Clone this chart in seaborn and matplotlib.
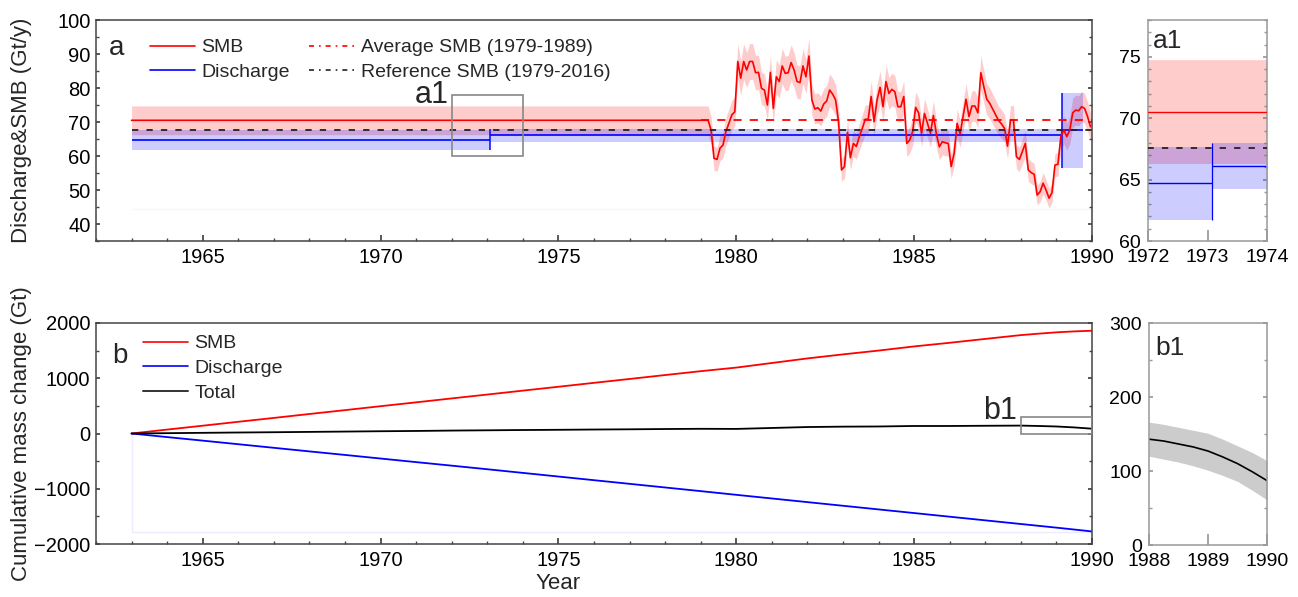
import numpy as np
import pandas as pd
import matplotlib
matplotlib.use("Agg")
import matplotlib.pyplot as plt
from matplotlib.lines import Line2D
from matplotlib.patches import Rectangle
from matplotlib.ticker import MultipleLocator, FixedLocator
import seaborn as sns

# ---------------- data: panel a (Gt/y) ----------------
smb_const = 70.5              # SMB used for 1963-1979
smb_rel_err = 0.06            # half-width of the SMB band, relative
smb_monthly = [               # Jan 1979 .. Dec 1989
    70.5, 70.5, 70.5, 67.6, 59.3, 59.0, 62.3, 63.2, 67.2, 69.6, 72.1, 73.0,
    87.8, 82.9, 87.8, 85.3, 87.8, 87.8, 84.5, 84.6, 79.9, 79.4, 75.0, 84.6,
    74.0, 83.3, 81.9, 86.5, 84.3, 84.5, 87.5, 85.3, 81.9, 81.6, 86.5, 83.3,
    89.4, 76.5, 73.8, 74.2, 73.2, 75.3, 76.2, 79.4, 78.2, 76.5, 70.1, 55.9,
    56.9, 66.9, 59.5, 63.7, 62.8, 65.7, 68.1, 70.8, 70.8, 77.5, 70.1, 76.5,
    80.2, 74.5, 81.9, 78.4, 79.6, 78.9, 74.5, 74.5, 77.5, 63.7, 64.7, 67.2,
    74.3, 72.7, 66.7, 72.5, 69.6, 66.7, 71.9, 66.5, 62.7, 64.2, 63.9, 63.7,
    56.9, 60.8, 69.6, 66.5, 71.6, 76.7, 71.6, 74.7, 74.7, 72.7, 84.5, 80.4,
    76.7, 75.5, 73.8, 72.1, 70.4, 69.4, 68.1, 62.9, 70.6, 70.6, 59.8, 59.0,
    61.3, 63.7, 55.9, 55.1, 54.6, 48.5, 49.5, 52.0, 50.0, 47.6, 49.2, 57.3,
    57.6, 65.7, 67.6, 65.7, 67.6, 72.7, 73.5, 73.3, 74.5, 74.0, 71.6, 68.6,
]
smb_avg_79_89 = 70.5
smb_ref_79_16 = 67.6
smb_band_floor = 44.5

dis_edges = [1963.0, 1973.08, 1989.17, 1989.75]
dis_vals = [64.7, 66.1, 67.6]
dis_lo = [61.7, 64.2, 56.6]
dis_hi = [67.65, 68.0, 78.4]

# ---------------- data: panel b (Gt) ----------------
cum_years = [1963, 1964, 1965, 1966, 1967, 1968, 1969, 1970, 1971, 1972,
             1973, 1974, 1975, 1976, 1977, 1978, 1979, 1980, 1981, 1982,
             1983, 1984, 1985, 1986, 1987, 1988, 1988.5, 1989, 1989.5, 1990]
cum_smb = [0, 71, 141, 212, 282, 353, 423, 494, 564, 635,
           705, 776, 846, 917, 987, 1058, 1128, 1193, 1276, 1359,
           1432, 1501, 1576, 1642, 1712, 1781, 1807, 1831, 1848, 1860]
cum_dis = [0, -65, -129, -194, -259, -324, -388, -453, -518, -582,
           -647, -713, -779, -845, -911, -977, -1043, -1110, -1176, -1242,
           -1308, -1374, -1440, -1506, -1572, -1638, -1671, -1704, -1738, -1773]
cum_total = [0, 6, 12, 18, 23, 29, 35, 41, 46, 53,
             58, 63, 67, 72, 76, 81, 85, 83, 100, 117,
             124, 127, 136, 136, 140, 143, 136, 127, 110, 87]
cum_floor = -1790

b1_years = [1988, 1988.25, 1988.5, 1988.75, 1989, 1989.25, 1989.5, 1989.75, 1990]
b1_total = [143, 140.5, 136.5, 132.5, 127, 119, 110, 99, 87]
b1_lo = [120, 116, 112, 107, 101, 94, 86, 74, 61]
b1_hi = [166, 163, 159, 155, 151, 143, 134, 125, 114]

# ---------------- style ----------------
sns.set_theme(style="ticks")
plt.rcParams["font.family"] = ["Liberation Sans", "DejaVu Sans"]
plt.rcParams["axes.linewidth"] = 1.1

W, H = 1298, 597
fig = plt.figure(figsize=(W / 100, H / 100), dpi=100)


def px_axes(left, top, right, bottom):
    return fig.add_axes([left / W, 1 - bottom / H, (right - left) / W, (bottom - top) / H])


ax_a = px_axes(96, 20, 1092, 241)
ax_b = px_axes(96, 323, 1092, 544)
ax_a1 = px_axes(1148, 20, 1267, 241)
ax_b1 = px_axes(1149, 323, 1267, 545)

t_month = 1979 + (np.arange(len(smb_monthly)) + 0.5) / 12
smb_df = pd.DataFrame({"year": np.r_[1963.0, t_month],
                       "smb": np.r_[smb_const, smb_monthly]})
smb_df["lo"] = smb_df["smb"] * (1 - smb_rel_err)
smb_df["hi"] = smb_df["smb"] * (1 + smb_rel_err)


def draw_a(ax, lw=1.2):
    ax.hlines(smb_band_floor, 1963, 1990, color="red", alpha=0.05, lw=1)
    ax.fill_between(smb_df["year"], smb_df["lo"], smb_df["hi"],
                    color="red", alpha=0.2, lw=0, zorder=1)
    for i in range(len(dis_vals)):
        ax.fill_between([dis_edges[i], dis_edges[i + 1]], dis_lo[i], dis_hi[i],
                        color="blue", alpha=0.2, lw=0, zorder=1)
        ax.hlines(dis_vals[i], dis_edges[i], dis_edges[i + 1], color="blue", lw=lw, zorder=2)
        if i > 0:
            ax.vlines(dis_edges[i], min(dis_lo[i - 1], dis_lo[i]),
                      max(dis_hi[i - 1], dis_hi[i]), color="blue", lw=lw * 0.9, zorder=2)
    sns.lineplot(data=smb_df, x="year", y="smb", ax=ax, color="red", lw=lw,
                 estimator=None, zorder=3)
    ax.hlines(smb_ref_79_16, 1963, 1990, color="#222222", lw=1.3,
              linestyles=(0, (3.5, 4.5)), zorder=4)
    ax.hlines(smb_avg_79_89, 1979, 1990, color="red", lw=1.3,
              linestyles=(0, (4.5, 4.5)), zorder=4)


def draw_b(ax, lw=1.3):
    ax.hlines(cum_floor, 1963, 1990, color="blue", alpha=0.07, lw=1)
    ax.vlines(1963, cum_floor, 0, color="blue", alpha=0.07, lw=1)
    sns.lineplot(x=cum_years, y=cum_smb, ax=ax, color="red", lw=lw, estimator=None)
    sns.lineplot(x=cum_years, y=cum_dis, ax=ax, color="blue", lw=lw, estimator=None)
    sns.lineplot(x=cum_years, y=cum_total, ax=ax, color="black", lw=lw, estimator=None)


def style_main(ax):
    for s in ax.spines.values():
        s.set_color("#444444")
        s.set_visible(True)
    ax.tick_params(which="both", direction="in", right=True, top=False,
                   color="#444444", labelsize=14.5, labelcolor="black")
    ax.tick_params(axis="x", which="major", length=4.5, pad=5)
    ax.tick_params(axis="x", which="minor", length=2.2)
    ax.tick_params(axis="y", which="major", length=3, pad=4)
    ax.tick_params(axis="y", which="minor", length=2)
    ax.set_xlim(1962, 1990)
    ax.xaxis.set_major_locator(FixedLocator([1965, 1970, 1975, 1980, 1985, 1990]))
    ax.xaxis.set_minor_locator(MultipleLocator(1))
    ax.grid(False)


def style_inset(ax):
    for s in ax.spines.values():
        s.set_color("#999999")
        s.set_visible(True)
    ax.tick_params(which="both", direction="in", right=True, top=False,
                   color="#999999", labelsize=14, labelcolor="black")
    ax.tick_params(axis="x", which="major", length=8, pad=6)
    ax.tick_params(axis="y", which="major", length=3, pad=5)
    ax.tick_params(axis="y", which="minor", length=2)
    ax.set_xlabel("")
    ax.set_ylabel("")
    ax.grid(False)


# ---- panel a ----
draw_a(ax_a)
style_main(ax_a)
ax_a.set_ylim(35, 100)
ax_a.yaxis.set_major_locator(MultipleLocator(10))
ax_a.yaxis.set_minor_locator(MultipleLocator(5))
ax_a.set_xlabel("")
ax_a.set_ylabel("Discharge&SMB (Gt/y)", fontsize=16)
ax_a.yaxis.set_label_coords(-0.064, 0.5)
ax_a.text(0.013, 0.842, "a", transform=ax_a.transAxes, fontsize=20, va="baseline")
ax_a.add_patch(Rectangle((1972, 60), 2, 18, fill=False, ec="#888888", lw=1.2, zorder=5))
ax_a.annotate("a1", (1972, 78), xytext=(-2, 0), textcoords="offset points",
              ha="right", va="center", fontsize=22)

leg_a = [
    Line2D([], [], color="red", lw=1.2, label="SMB"),
    Line2D([], [], color="blue", lw=1.2, label="Discharge"),
    Line2D([], [], color="red", lw=1.2, ls=(0, (3, 3, 1, 3)), label="Average SMB (1979-1989)"),
    Line2D([], [], color="#222222", lw=1.2, ls=(0, (3, 3, 1, 3)), label="Reference SMB (1979-2016)"),
]
ax_a.legend(handles=leg_a, loc="upper left", bbox_to_anchor=(0.054, 0.915), ncol=2,
            frameon=False, fontsize=14, handlelength=2.3, handletextpad=0.35,
            columnspacing=1.0, labelspacing=0.36, borderpad=0, borderaxespad=0)

# ---- panel b ----
draw_b(ax_b)
style_main(ax_b)
ax_b.set_ylim(-2000, 2000)
ax_b.yaxis.set_major_locator(MultipleLocator(1000))
ax_b.yaxis.set_minor_locator(MultipleLocator(500))
ax_b.set_xlabel("Year", fontsize=16, labelpad=0)
ax_b.xaxis.set_label_coords((1975 - 1962) / 28, -0.13)
ax_b.set_ylabel("Cumulative mass change (Gt)", fontsize=16)
ax_b.yaxis.set_label_coords(-0.064, 0.5)
ax_b.text(0.016, 0.819, "b", transform=ax_b.transAxes, fontsize=20, va="baseline")
ax_b.add_patch(Rectangle((1988, 0), 2, 300, fill=False, ec="#888888", lw=1.2, zorder=5))
ax_b.annotate("b1", (1988, 300), xytext=(-3, 4), textcoords="offset points",
              ha="right", va="center", fontsize=22)

leg_b = [
    Line2D([], [], color="red", lw=1.2, label="SMB"),
    Line2D([], [], color="blue", lw=1.2, label="Discharge"),
    Line2D([], [], color="#333333", lw=1.4, label="Total"),
]
ax_b.legend(handles=leg_b, loc="upper left", bbox_to_anchor=(0.047, 0.947),
            frameon=False, fontsize=14, handlelength=2.3, handletextpad=0.35,
            labelspacing=0.36, borderpad=0, borderaxespad=0)

# ---- inset a1 ----
draw_a(ax_a1, lw=1.0)
style_inset(ax_a1)
ax_a1.set_xlim(1972, 1974)
ax_a1.set_ylim(60, 78)
ax_a1.xaxis.set_major_locator(FixedLocator([1972, 1973, 1974]))
ax_a1.yaxis.set_major_locator(FixedLocator([60, 65, 70, 75]))
ax_a1.yaxis.set_minor_locator(MultipleLocator(1))
ax_a1.text(0.04, 0.873, "a1", transform=ax_a1.transAxes, fontsize=19, va="baseline")

# ---- inset b1 ----
ax_b1.fill_between(b1_years, b1_lo, b1_hi, color="#cccccc", lw=0)
sns.lineplot(x=b1_years, y=b1_total, ax=ax_b1, color="black", lw=1.2, estimator=None)
style_inset(ax_b1)
ax_b1.set_xlim(1988, 1990)
ax_b1.set_ylim(0, 300)
ax_b1.xaxis.set_major_locator(FixedLocator([1988, 1989, 1990]))
ax_b1.yaxis.set_major_locator(MultipleLocator(100))
ax_b1.yaxis.set_minor_locator(MultipleLocator(50))
ax_b1.text(0.05, 0.856, "b1", transform=ax_b1.transAxes, fontsize=19, va="baseline")

fig.savefig("out.png", dpi=100)
